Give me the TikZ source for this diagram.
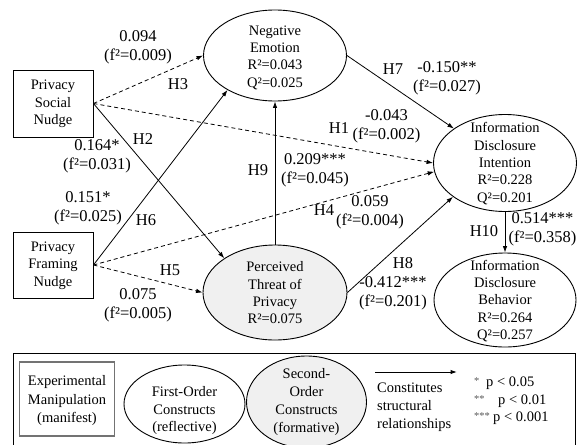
\documentclass[tikz,border=0pt]{standalone}
\usepackage{fontspec}
\setmainfont{Liberation Serif}
\usetikzlibrary{shapes.geometric,arrows.meta}
\tikzset{
  ntext/.style={font=\fontsize{14.5}{17.3}\selectfont, align=center, inner sep=0pt},
  lbl/.style={font=\fontsize{16.5}{19}\selectfont, align=center, inner sep=0pt},
  stars/.style={font=\fontsize{10.5}{12}\selectfont, text=black!65, inner sep=0pt, anchor=west},
  constr/.style={ellipse, draw, line width=0.9pt, inner sep=0pt},
  second/.style={constr, fill=gray!12},
  manip/.style={rectangle, draw, line width=0.9pt, inner sep=0pt},
  arr/.style={-{Latex[length=6.5pt,width=4.5pt]}, line width=0.8pt},
  darr/.style={arr, dash pattern=on 4pt off 3pt},
}
\begin{document}
\begin{tikzpicture}[x=1pt,y=-1pt]
\clip (0,0) rectangle (577,444);
\fill[white] (0,0) rectangle (577,444);

% ---- constructs ----
\node[manip, minimum width=80pt, minimum height=67pt] (psn) at (53,103.5) {};
\node[ntext] (psnt) at (53,104) {Privacy\\Social\\Nudge};
\node[manip, minimum width=80pt, minimum height=66pt] (pfn) at (53,265) {};
\node[ntext] (pfnt) at (53,265.5) {Privacy\\Framing\\Nudge};

\node[constr, minimum width=143pt, minimum height=91pt] (ne) at (275,55.5) {};
\node[ntext] (net) at (275,57.5) {Negative\\Emotion\\R²=0.043\\Q²=0.025};

\node[second, minimum width=144pt, minimum height=95pt] (pt) at (275,292.5) {};
\node[ntext] (ptt) at (275,293) {Perceived\\Threat of\\Privacy\\R²=0.075};

\node[constr, minimum width=143pt, minimum height=97pt] (ii) at (505,163) {};
\node[ntext] (iit) at (505,163.5) {Information\\Disclosure\\Intention\\R²=0.228\\Q²=0.201};

\node[constr, minimum width=142pt, minimum height=94pt] (ib) at (505,300) {};
\node[ntext] (ibt) at (505,301) {Information\\Disclosure\\Behavior\\R²=0.264\\Q²=0.257};

% ---- connectors ----
\draw[darr] (psn.east) -- (ne.west);
\draw[darr] (psn.east) -- (ii.west);
\draw[arr]  (psn.east) -- (pt.146);
\draw[arr]  (pfn.east) -- (ne.216);
\draw[darr] (pfn.east) -- (ii.187);
\draw[darr] (pfn.east) -- (pt.west);
\draw[arr]  (pt.north) -- (ne.south);
\draw[arr]  (ne.east) -- (ii.146);
\draw[arr]  (pt.east) -- (ii.213);
\draw[arr]  (ii.south) -- (ib.north);

% ---- labels ----
\node[lbl] (l094) at (138,47.5) {0.094\\(f²=0.009)};
\node[lbl] (lh3) at (178,84) {H3};
\node[lbl] (lh2) at (143,139) {H2};
\node[lbl] (l164) at (97,156.5) {0.164*\\(f²=0.031)};
\node[lbl] (l151) at (88,208) {0.151*\\(f²=0.025)};
\node[lbl] (lh6) at (146,220) {H6};
\node[lbl] (lh5) at (170,270) {H5};
\node[lbl] (l075) at (138,305.5) {0.075\\(f²=0.005)};
\node[lbl] (lh9) at (258,170) {H9};
\node[lbl] (l209) at (315,170) {0.209***\\(f²=0.045)};
\node[lbl] (lh1) at (339,128) {H1};
\node[lbl] (l043) at (386.5,126.5) {-0.043\\(f²=0.002)};
\node[lbl] (lh7) at (393,69) {H7};
\node[lbl] (l150) at (447,78.5) {-0.150**\\(f²=0.027)};
\node[lbl] (l059) at (370,212.5) {0.059\\(f²=0.004)};
\node[lbl] (lh4) at (324,210) {H4};
\node[lbl] (lh8) at (403,263) {H8};
\node[lbl] (l412) at (393,293.5) {-0.412***\\(f²=0.201)};
\node[lbl] (lh10) at (484,231) {H10};
\node[lbl] (l514) at (542.5,229.5) {0.514***\\(f²=0.358)};

% ---- legend ----
\node[draw, line width=1.2pt, inner sep=0pt, minimum width=561.5pt, minimum height=100pt, anchor=north west] (leg) at (13,353) {};
\node[draw=black!55, line width=1.6pt, inner sep=0pt, minimum width=95pt, minimum height=73.5pt] (lman) at (67,399) {};
\node[ntext, font=\fontsize{14.5}{18.5}\selectfont] (lmant) at (67,401) {Experimental\\Manipulation\\(manifest)};
\node[constr, minimum width=121pt, minimum height=78pt] (lfirst) at (184.5,404) {};
\node[ntext, font=\fontsize{14.5}{17.5}\selectfont] (lfirstt) at (184.5,411) {First-Order\\Constructs\\(reflective)};
\node[second, minimum width=120pt, minimum height=92pt] (lsec) at (306.5,402) {};
\node[ntext, font=\fontsize{14.5}{18}\selectfont] (lsect) at (306.5,402) {Second-\\Order\\Constructs\\(formative)};
\coordinate (la) at (375,372);
\coordinate (lb) at (457,372);
\draw[arr, line width=1pt] (la) -- (lb);
\node[ntext, font=\fontsize{14.5}{18}\selectfont, align=left, anchor=west] (lcon) at (377,407) {Constitutes\\structural\\relationships};
\node[stars] (s1) at (474,381) {*};
\node[ntext, anchor=west] (p1) at (486,383) {p < 0.05};
\node[stars] (s2) at (474,399) {**};
\node[ntext, anchor=west] (p2) at (498,401) {p < 0.01};
\node[stars] (s3) at (474,416) {***};
\node[ntext, anchor=west] (p3) at (493,418) {p < 0.001};
\end{tikzpicture}
\end{document}
